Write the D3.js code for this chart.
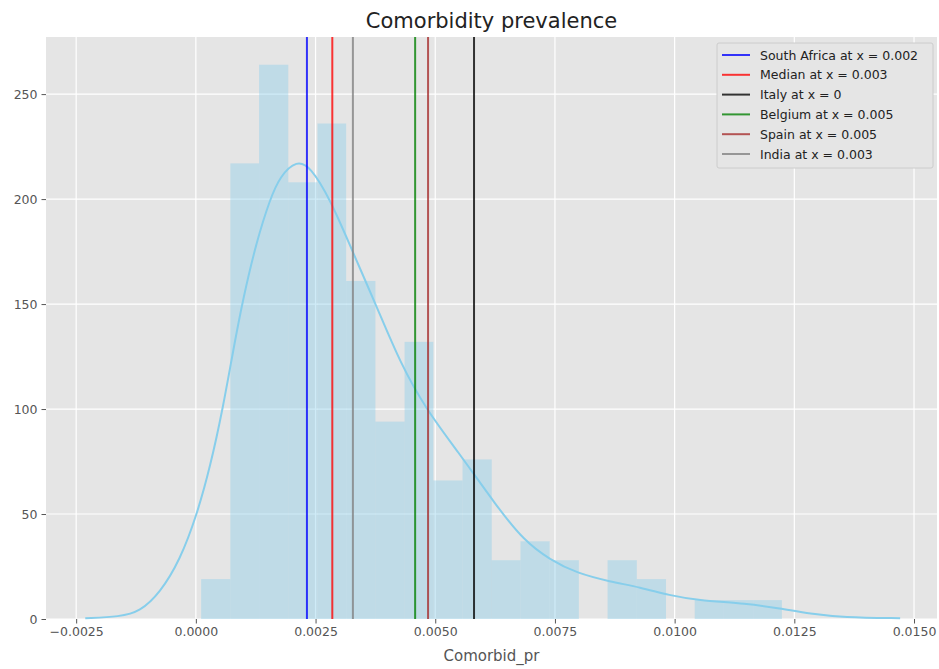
<!DOCTYPE html>
<html>
<head>
<meta charset="utf-8">
<script src="https://cdn.jsdelivr.net/npm/d3@7"></script>
<style>
  html, body { margin: 0; padding: 0; background: #ffffff; }
  svg text { font-family: "DejaVu Sans", sans-serif; }
</style>
</head>
<body>
<div id="chart"></div>
<script>
// Histogram (density) of Comorbid_pr
const binEdges = [0.00011, 0.00072, 0.00132, 0.00193, 0.00254, 0.00314, 0.00375,
    0.00436, 0.00496, 0.00557, 0.00618, 0.00678, 0.00739, 0.00800, 0.00860,
    0.00921, 0.00982, 0.01042, 0.01103, 0.01164, 0.01224];
const binDensity = [19, 217, 264, 208, 236, 161, 94, 132, 66, 76,
    28, 37, 28, 0, 28, 19, 0, 9, 9, 9];

// KDE curve points
const kdeX = [-0.00231, -0.00158, -0.00117, -0.00075, -0.00033, 0.00002, 0.00030,
    0.00057, 0.00078, 0.00099, 0.00127, 0.00155, 0.00176, 0.00211, 0.00239,
    0.00280, 0.00329, 0.00378, 0.00427, 0.00482, 0.00545, 0.00629, 0.00684,
    0.00740, 0.00796, 0.00865, 0.00928, 0.00990, 0.01046, 0.01151, 0.01220,
    0.01283, 0.01352, 0.01471];
const kdeY = [0.3, 1.1, 3.5, 12.4, 28.1, 49.5, 72.5, 101, 128, 153, 180, 200,
    211, 218.5, 215.5, 200.3, 174.1, 148.7, 121.8, 99.5, 80.5, 53.5, 37.6,
    28.1, 21.8, 17.8, 15.1, 11.2, 9.0, 7.3, 5.1, 2.4, 0.8, 0.4];

// Reference lines (axvline) in legend order
const markerLabels = ["South Africa at x = 0.002", "Median at x = 0.003", "Italy at x = 0",
    "Belgium at x = 0.005", "Spain at x = 0.005", "India at x = 0.003"];
const markerValues = [0.00232, 0.00285, 0.00581, 0.00458, 0.00485, 0.00328];
const markerColors = ["blue", "red", "black", "green", "brown", "gray"];

const xTicks = [-0.0025, 0, 0.0025, 0.005, 0.0075, 0.01, 0.0125, 0.015];
const yTicks = [0, 50, 100, 150, 200, 250];

// 1. DIMENSIONS
const W = 939, H = 669;
const plot = { left: 46, right: 937, top: 37, bottom: 619 };

const svg = d3.select("#chart").append("svg")
    .attr("width", W)
    .attr("height", H);

// 2. SCALES
const x = d3.scaleLinear().domain([-0.00313, 0.01548]).range([plot.left, plot.right]);
const y = d3.scaleLinear().domain([0, 277.2]).range([plot.bottom, plot.top]);

// 3. BACKGROUND + GRID (ggplot style)
svg.append("rect")
    .attr("x", plot.left).attr("y", plot.top)
    .attr("width", plot.right - plot.left)
    .attr("height", plot.bottom - plot.top)
    .attr("fill", "#e5e5e5");

const grid = svg.append("g");
grid.selectAll(".gx").data(xTicks).enter().append("line")
    .attr("x1", d => x(d)).attr("x2", d => x(d))
    .attr("y1", plot.top).attr("y2", plot.bottom)
    .attr("stroke", "#ffffff").attr("stroke-width", 1.2);
grid.selectAll(".gy").data(yTicks).enter().append("line")
    .attr("x1", plot.left).attr("x2", plot.right)
    .attr("y1", d => y(d)).attr("y2", d => y(d))
    .attr("stroke", "#ffffff").attr("stroke-width", 1.2);

// 4. HISTOGRAM BARS
const bins = binDensity.map((v, i) => ({ x0: binEdges[i], x1: binEdges[i + 1], v: v }));
svg.append("g").selectAll("rect")
    .data(bins.filter(d => d.v > 0))
    .enter().append("rect")
    .attr("x", d => x(d.x0))
    .attr("width", d => x(d.x1) - x(d.x0))
    .attr("y", d => y(d.v))
    .attr("height", d => y(0) - y(d.v))
    .attr("fill", "#87ceeb")
    .attr("fill-opacity", 0.4);

// 5. KDE LINE (smoothed through the read points)
const kde = kdeX.map((v, i) => [v, kdeY[i]]);
svg.append("path")
    .datum(kde)
    .attr("fill", "none")
    .attr("stroke", "#87ceeb")
    .attr("stroke-width", 2)
    .attr("d", d3.line().x(d => x(d[0])).y(d => y(d[1])).curve(d3.curveBasis));

// 6. VERTICAL MARKERS
svg.append("g").selectAll("line")
    .data(markerValues)
    .enter().append("line")
    .attr("x1", d => x(d)).attr("x2", d => x(d))
    .attr("y1", plot.top).attr("y2", plot.bottom)
    .attr("stroke", (d, i) => markerColors[i])
    .attr("stroke-opacity", 0.78)
    .attr("stroke-width", 2);

// 7. AXES
const xAxis = svg.append("g")
    .attr("transform", `translate(0,${plot.bottom})`)
    .call(d3.axisBottom(x).tickValues(xTicks).tickFormat(d3.format(".4f")).tickSizeInner(4.5).tickSizeOuter(0).tickPadding(4));
const yAxis = svg.append("g")
    .attr("transform", `translate(${plot.left},0)`)
    .call(d3.axisLeft(y).tickValues(yTicks).tickSizeInner(4.5).tickSizeOuter(0).tickPadding(4));

[xAxis, yAxis].forEach(a => {
    a.select(".domain").remove();
    a.selectAll(".tick line").attr("stroke", "#555555");
    a.selectAll(".tick text")
        .attr("fill", "#555555")
        .style("font-size", "12.5px")
        .style("font-family", "DejaVu Sans, sans-serif");
});

// Titles
svg.append("text")
    .attr("x", (plot.left + plot.right) / 2)
    .attr("y", 28)
    .attr("text-anchor", "middle")
    .attr("fill", "#222222")
    .style("font-size", "21px")
    .text("Comorbidity prevalence");

svg.append("text")
    .attr("x", (plot.left + plot.right) / 2)
    .attr("y", 661)
    .attr("text-anchor", "middle")
    .attr("fill", "#555555")
    .style("font-size", "15px")
    .text("Comorbid_pr");

// 8. LEGEND
const legend = svg.append("g").attr("transform", "translate(717,43)");
legend.append("rect")
    .attr("width", 216).attr("height", 125)
    .attr("rx", 2)
    .attr("fill", "#e5e5e5")
    .attr("stroke", "#cccccc");

const rows = legend.selectAll(".row")
    .data(markerLabels)
    .enter().append("g")
    .attr("transform", (d, i) => `translate(0,${12 + i * 19.8})`);
rows.append("line")
    .attr("x1", 5).attr("x2", 33)
    .attr("stroke", (d, i) => markerColors[i])
    .attr("stroke-opacity", 0.78)
    .attr("stroke-width", 2);
rows.append("text")
    .attr("x", 43)
    .attr("dy", "0.36em")
    .attr("fill", "#222222")
    .style("font-size", "12.5px")
    .text(d => d);
</script>
</body>
</html>
